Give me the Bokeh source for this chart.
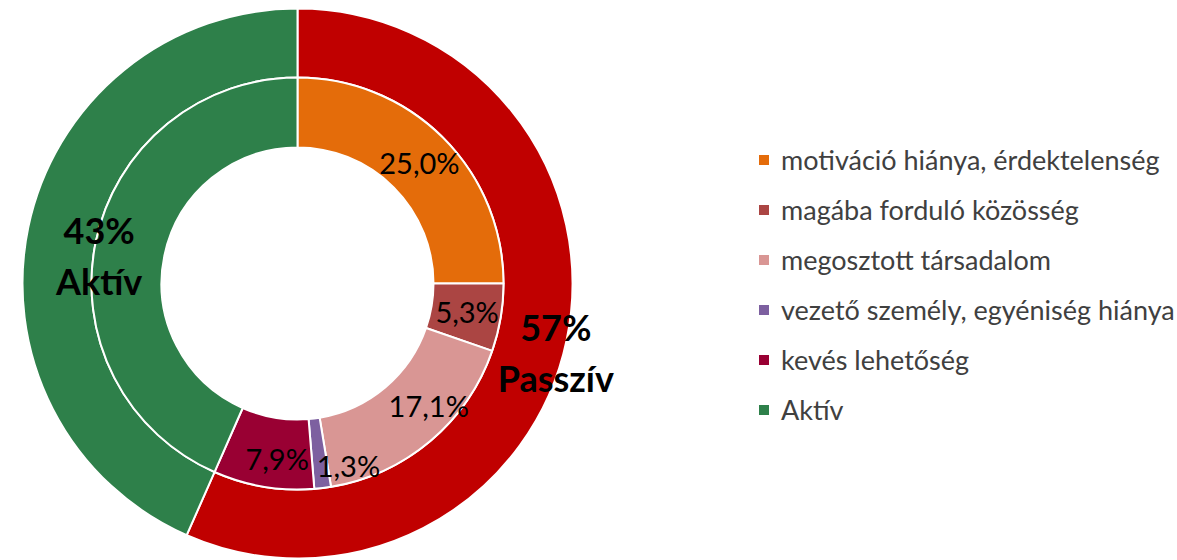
import numpy as np
from bokeh.plotting import figure
from bokeh.models import ColumnDataSource, Range1d, Legend, LegendItem
from bokeh.core.properties import value
from bokeh.embed import file_html
from bokeh.resources import INLINE

# ---- data ----
inner_labels = ["motiváció hiánya, érdektelenség", "magába forduló közösség",
                "megosztott társadalom", "vezető személy, egyéniség hiánya",
                "kevés lehetőség", "Aktív"]
inner_values = [25.0, 5.3, 17.1, 1.3, 7.9, 43.4]
inner_colors = ["#E46C0A", "#AB4543", "#D99694", "#7D60A0", "#990033", "#2E804A"]

outer_labels = ["Passzív", "Aktív"]
outer_values = [56.6, 43.4]
outer_colors = ["#C00000", "#2E804A"]

FONT = "Lato"
CX, CY = 297, 277
R_HOLE, R_MID, R_OUT = 136, 206, 275


def angles(vals):
    v = np.array(vals, dtype=float)
    frac = v / v.sum()
    c1 = np.cumsum(frac)
    c0 = c1 - frac
    start = np.pi / 2 - 2 * np.pi * c1
    end = np.pi / 2 - 2 * np.pi * c0
    mid = np.pi / 2 - np.pi * (c0 + c1)
    return start, end, mid


p = figure(width=1177, height=560, x_range=Range1d(0, 1177), y_range=Range1d(0, 560),
           output_backend="svg", toolbar_location=None, min_border=0,
           outline_line_color=None, background_fill_color="white")
p.axis.visible = False
p.grid.visible = False

# outer ring
s_o, e_o, m_o = angles(outer_values)
src_o = ColumnDataSource(dict(start=s_o, end=e_o, color=outer_colors, label=outer_labels))
p.annular_wedge(x=CX, y=CY, inner_radius=R_MID, outer_radius=R_OUT,
                start_angle="start", end_angle="end", fill_color="color",
                line_color="white", line_width=2, source=src_o)

# inner ring
s_i, e_i, m_i = angles(inner_values)
src_i = ColumnDataSource(dict(start=s_i, end=e_i, color=inner_colors, label=inner_labels))
r_in = p.annular_wedge(x=CX, y=CY, inner_radius=R_HOLE, outer_radius=R_MID,
                       start_angle="start", end_angle="end", fill_color="color",
                       line_color="white", line_width=2, source=src_i)

# inner labels (all but Aktív)
r_lab = (R_HOLE + R_MID) / 2
xo_in = [1, 1, 21, 30, 8]
yo_in = [0, 0, -9, 12, 6]
n = len(inner_values) - 1
lab_src = ColumnDataSource(dict(
    x=CX + r_lab * np.cos(m_i[:n]),
    y=CY + r_lab * np.sin(m_i[:n]),
    text=[f"{v:.1f}%".replace(".", ",") for v in inner_values[:n]],
    xo=xo_in, yo=yo_in))
p.text(x="x", y="y", text="text", x_offset="xo", y_offset="yo", source=lab_src,
       text_font=value(FONT), text_font_size="29px", text_color="#000000",
       text_align="center", text_baseline="middle")

# outer labels
r_lab_o = (R_MID + R_OUT) / 2
xo_out = [23, 37]
yo_out = [19, 21]
ox = CX + r_lab_o * np.cos(m_o)
oy = CY + r_lab_o * np.sin(m_o)
out_pct = ColumnDataSource(dict(x=ox, y=oy, text=[f"{round(v)}%" for v in outer_values],
                                xo=xo_out, yo=[y - 25 for y in yo_out]))
out_name = ColumnDataSource(dict(x=ox, y=oy, text=outer_labels,
                                 xo=xo_out, yo=[y + 26 for y in yo_out]))
for s in (out_pct, out_name):
    p.text(x="x", y="y", text="text", x_offset="xo", y_offset="yo", source=s,
           text_font=value(FONT), text_font_size="36px", text_font_style="bold",
           text_color="#000000", text_align="center", text_baseline="middle")

# legend
items = [LegendItem(label=lbl, renderers=[r_in], index=i) for i, lbl in enumerate(inner_labels)]
legend = Legend(items=items, location=(756, 134), orientation="vertical",
                glyph_width=15, glyph_height=15, label_standoff=10, spacing=17,
                label_text_font=FONT, label_text_font_size="27px",
                label_text_color="#404040", padding=0, margin=0,
                border_line_color=None, background_fill_alpha=0)
p.add_layout(legend)

open("out.html", "w").write(file_html(p, INLINE))
